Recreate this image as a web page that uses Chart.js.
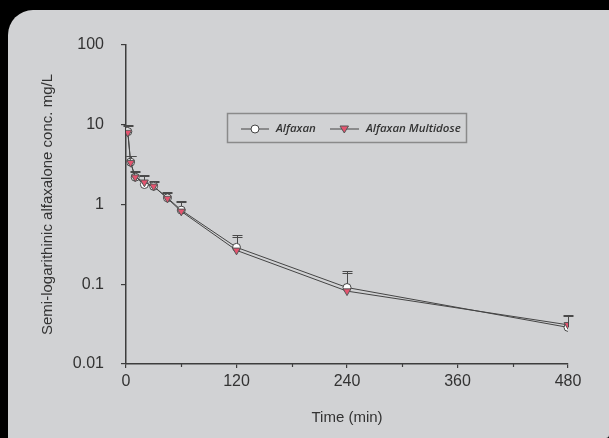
<!DOCTYPE html>
<html><head><meta charset="utf-8">
<script src="https://cdn.jsdelivr.net/npm/chart.js@4.4.1/dist/chart.umd.min.js"></script>
<style>
html,body{margin:0;padding:0;background:#000;width:609px;height:438px;overflow:hidden}
#panel{position:absolute;left:8px;top:10px;width:601px;height:428px;background:#d1d2d4;border-top-left-radius:25px;border-bottom-right-radius:3px}
#c{position:absolute;left:0;top:0}
</style></head><body>
<div id="panel"></div>
<canvas id="c" width="609" height="438"></canvas>
<script>
const times = [2, 5, 10, 20, 30, 45, 60, 120, 240, 480];
const alfaxan = [8.2, 3.4, 2.2, 1.78, 1.69, 1.21, 0.85, 0.29, 0.091, 0.0288];
const multidose = [8.0, 3.35, 2.2, 1.9, 1.69, 1.19, 0.82, 0.266, 0.082, 0.031];
const alfaxanUpper = [10, 4.1, 2.66, 2.32, 1.95, 1.43, 1.12, 0.415, 0.147, 0.041];
const multidoseUpper = [9.7, 4.0, 2.55, 2.25, 1.9, 1.4, 1.08, 0.394, 0.137, 0.040];
const yTicks = [0.01, 0.1, 1, 10, 100];
const xTicks = [0, 120, 240, 360, 480];
const xMinorTicks = [60, 180, 300, 420];
const seriesNames = ['Alfaxan', 'Alfaxan Multidose'];

const AXIS = '#3d3d3d';
const TXT = '#333';
const PINK = '#e4546f';
const FONT = "'Liberation Sans', Arial, sans-serif";

const errorBars = {
  id: 'errorBars',
  beforeDatasetsDraw(chart) {
    const ctx = chart.ctx, xs = chart.scales.x, ys = chart.scales.y;
    chart.data.datasets.forEach(ds => {
      ctx.save();
      ctx.strokeStyle = '#4a4a4a';
      ctx.lineWidth = 1;
      ds.upper.forEach((u, i) => {
        const x = Math.round(xs.getPixelForValue(ds.data[i].x)) + 0.5;
        const y0 = ys.getPixelForValue(ds.data[i].y);
        const y1 = Math.round(ys.getPixelForValue(u)) + 0.5;
        ctx.beginPath();
        ctx.moveTo(x, y0); ctx.lineTo(x, y1);
        ctx.moveTo(x - 5, y1); ctx.lineTo(x + 5, y1);
        ctx.stroke();
      });
      ctx.restore();
    });
  },
  afterDraw(chart) {
    const ctx = chart.ctx, xs = chart.scales.x;
    const yb = chart.chartArea.bottom;
    ctx.save();
    ctx.strokeStyle = AXIS; ctx.lineWidth = 1.2;
    xMinorTicks.forEach(v => {
      const x = Math.round(xs.getPixelForValue(v)) + 0.5;
      ctx.beginPath(); ctx.moveTo(x, yb); ctx.lineTo(x, yb + 3); ctx.stroke();
    });
    // legend box
    ctx.strokeStyle = '#8a8a8a'; ctx.lineWidth = 1.5;
    ctx.strokeRect(227.5, 113.5, 239, 29);
    const ly = 129;
    ctx.strokeStyle = '#444'; ctx.lineWidth = 1;
    ctx.beginPath(); ctx.moveTo(241, ly); ctx.lineTo(269, ly); ctx.stroke();
    ctx.beginPath(); ctx.arc(255, ly, 4, 0, Math.PI * 2);
    ctx.fillStyle = '#fff'; ctx.fill(); ctx.stroke();
    ctx.beginPath(); ctx.moveTo(330, ly); ctx.lineTo(359, ly); ctx.stroke();
    ctx.beginPath();
    ctx.moveTo(340, ly - 3); ctx.lineTo(348.5, ly - 3); ctx.lineTo(344.3, ly + 4); ctx.closePath();
    ctx.fillStyle = PINK; ctx.fill(); ctx.strokeStyle = '#555'; ctx.stroke();
    ctx.fillStyle = TXT;
    ctx.font = "italic 600 11.5px 'Open Sans', sans-serif";
    ctx.textBaseline = 'middle';
    ctx.fillText(seriesNames[0], 276, ly);
    ctx.fillText(seriesNames[1], 366, ly);
    ctx.restore();
  }
};

const mk = (vals) => times.map((t, i) => ({ x: t, y: vals[i] }));

new Chart(document.getElementById('c'), {
  type: 'scatter',
  data: {
    datasets: [
      {
        label: seriesNames[1], data: mk(multidose), upper: multidoseUpper, order: 0,
        showLine: true, borderColor: '#444', borderWidth: 1,
        pointStyle: 'triangle', rotation: 180, pointRadius: 4.5,
        pointBackgroundColor: PINK, pointBorderColor: '#555', pointBorderWidth: 1
      },
      {
        label: seriesNames[0], data: mk(alfaxan), upper: alfaxanUpper, order: 1,
        showLine: true, borderColor: '#444', borderWidth: 1,
        pointStyle: 'circle', pointRadius: 4,
        pointBackgroundColor: '#fff', pointBorderColor: '#444', pointBorderWidth: 1
      }
    ]
  },
  options: {
    responsive: false,
    devicePixelRatio: 1,
    animation: false,
    layout: { padding: { left: 0, right: 41, top: 45, bottom: 0 } },
    plugins: { legend: { display: false }, tooltip: { enabled: false } },
    scales: {
      x: {
        type: 'linear', min: 0, max: 480,
        afterBuildTicks: s => { s.ticks = xTicks.map(v => ({ value: v })); },
        afterFit: s => { s.height = 74; },
        grid: { drawOnChartArea: false, drawTicks: true, tickLength: 4, color: AXIS, lineWidth: 1.2 },
        border: { display: true, color: AXIS, width: 1.5 },
        ticks: { color: TXT, font: { family: FONT, size: 16 }, padding: 4, maxRotation: 0 },
        title: { display: true, text: 'Time (min)', color: TXT, font: { family: FONT, size: 15 }, padding: { top: 0, bottom: 11.5 } }
      },
      y: {
        type: 'logarithmic', min: 0.01, max: 100,
        afterBuildTicks: s => { s.ticks = yTicks.map(v => ({ value: v })); },
        afterFit: s => { s.width = 126; },
        grid: { drawOnChartArea: false, drawTicks: true, tickLength: 5, color: AXIS, lineWidth: 1.2 },
        border: { display: true, color: AXIS, width: 1.5 },
        ticks: { color: TXT, font: { family: FONT, size: 16 }, padding: 17, callback: v => String(v) },
        title: { display: true, text: 'Semi-logarithinic alfaxalone conc. mg/L', color: TXT, font: { family: FONT, size: 15 }, padding: { top: 38.5, bottom: 0 } }
      }
    }
  },
  plugins: [errorBars]
});
</script>
</body></html>
